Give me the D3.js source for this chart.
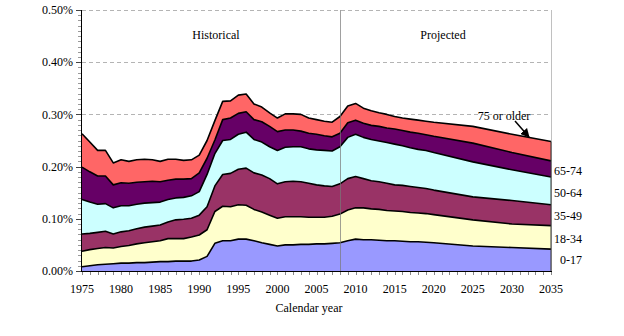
<!DOCTYPE html>
<html>
<head>
<meta charset="utf-8">
<script src="https://cdn.jsdelivr.net/npm/d3@7"></script>
<style>
  body { margin: 0; background: #fff; }
  text { font-family: "Liberation Serif", "Times New Roman", serif; fill: #000; }
</style>
</head>
<body>
<svg id="chart" width="624" height="336"></svg>
<script>
// Calendar years (annual to 2020, then every 5 years)
var years = [1975, 1976, 1977, 1978, 1979, 1980, 1981, 1982, 1983, 1984,
  1985, 1986, 1987, 1988, 1989, 1990, 1991, 1992, 1993, 1994,
  1995, 1996, 1997, 1998, 1999, 2000, 2001, 2002, 2003, 2004,
  2005, 2006, 2007, 2008, 2009, 2010, 2011, 2012, 2013, 2014,
  2015, 2016, 2017, 2018, 2019, 2020, 2025, 2030, 2035];

// percent, by age group
var age0_17 = [.008, .010, .012, .013, .014, .015, .015, .016, .016, .017,
  .018, .018, .019, .019, .019, .021, .028, .053, .058, .058,
  .061, .061, .058, .054, .051, .048, .050, .050, .051, .051,
  .052, .052, .053, .054, .058, .061, .060, .060, .059, .058,
  .058, .057, .056, .056, .055, .054, .048, .045, .042];
var age18_34 = [.030, .031, .031, .032, .030, .032, .034, .036, .038, .039,
  .040, .044, .043, .043, .046, .048, .051, .061, .066, .065,
  .066, .065, .060, .059, .056, .053, .054, .054, .053, .052,
  .051, .051, .052, .055, .059, .060, .061, .059, .059, .058,
  .057, .057, .056, .055, .055, .054, .050, .045, .045];
var age35_49 = [.033, .031, .031, .031, .027, .028, .028, .029, .030, .030,
  .030, .032, .036, .037, .036, .038, .044, .049, .061, .064,
  .068, .071, .070, .071, .070, .066, .067, .068, .067, .065,
  .062, .060, .057, .058, .060, .060, .056, .054, .053, .052,
  .050, .050, .050, .049, .048, .047, .044, .045, .040];
var age50_64 = [.066, .060, .054, .053, .050, .050, .048, .047, .046, .045,
  .044, .043, .042, .042, .043, .045, .062, .062, .065, .065,
  .067, .069, .064, .063, .061, .064, .066, .066, .067, .066,
  .067, .068, .068, .071, .079, .081, .079, .079, .078, .078,
  .078, .076, .074, .073, .073, .072, .067, .059, .053];
var age65_74 = [.062, .058, .054, .053, .044, .044, .043, .042, .041, .041,
  .039, .037, .036, .035, .033, .036, .031, .026, .040, .041,
  .040, .039, .038, .039, .039, .036, .033, .032, .030, .030,
  .030, .028, .027, .026, .028, .027, .027, .027, .028, .028,
  .029, .029, .030, .031, .030, .031, .036, .033, .031];
var age75plus = [.064, .057, .049, .049, .042, .044, .042, .043, .043, .041,
  .039, .040, .038, .036, .036, .034, .034, .037, .035, .033,
  .035, .034, .030, .028, .026, .026, .031, .031, .032, .029,
  .028, .028, .028, .032, .032, .032, .029, .028, .026, .026,
  .024, .024, .025, .025, .026, .027, .032, .035, .037];

var groups = ["0-17", "18-34", "35-49", "50-64", "65-74", "75 or older"];
var colors = ["#9999ff", "#ffffcc", "#993366", "#ccffff", "#660066", "#ff6666"];
var yTicks = [0, 0.1, 0.2, 0.3, 0.4, 0.5];
var xTicks = [1975, 1980, 1985, 1990, 1995, 2000, 2005, 2010, 2015, 2020, 2025, 2030, 2035];

var table = years.map(function (yr, i) {
  return {
    year: yr,
    "0-17": age0_17[i],
    "18-34": age18_34[i],
    "35-49": age35_49[i],
    "50-64": age50_64[i],
    "65-74": age65_74[i],
    "75 or older": age75plus[i]
  };
});

var svg = d3.select("svg#chart");
var plotL = 82, plotR = 551, plotT = 10, plotB = 271;

var x = d3.scaleLinear().domain([1975, 2035]).range([plotL, plotR]);
var y = d3.scaleLinear().domain([0, 0.5]).range([plotB, plotT]);

// gridlines
svg.append("g")
  .selectAll("line")
  .data(yTicks.slice(1))
  .join("line")
  .attr("x1", plotL).attr("x2", plotR)
  .attr("y1", d => Math.round(y(d)) + 0.5).attr("y2", d => Math.round(y(d)) + 0.5)
  .attr("stroke", "#b4b4b4")
  .attr("stroke-dasharray", "4,3");

// right border
svg.append("line")
  .attr("x1", plotR + 0.5).attr("x2", plotR + 0.5)
  .attr("y1", plotT).attr("y2", plotB)
  .attr("stroke", "#c0c0c0");

// stacked areas
var series = d3.stack().keys(groups)(table);
var area = d3.area()
  .x(d => x(d.data.year))
  .y0(d => y(d[0]))
  .y1(d => y(d[1]));

svg.append("g")
  .selectAll("path")
  .data(series)
  .join("path")
  .attr("d", area)
  .attr("fill", (d, i) => colors[i]);

var line = d3.line()
  .x(d => x(d.data.year))
  .y(d => y(d[1]));

svg.append("g")
  .selectAll("path")
  .data(series)
  .join("path")
  .attr("d", line)
  .attr("fill", "none")
  .attr("stroke", "#000")
  .attr("stroke-width", 1.6)
  .attr("stroke-linejoin", "round");

// right edge of the areas
svg.append("line")
  .attr("x1", plotR).attr("x2", plotR)
  .attr("y1", y(0)).attr("y2", y(d3.sum(groups, g => table[table.length - 1][g])))
  .attr("stroke", "#333").attr("stroke-width", 1);

// historical / projected divider
svg.append("line")
  .attr("x1", Math.round(x(2008)) + 0.5).attr("x2", Math.round(x(2008)) + 0.5)
  .attr("y1", plotT).attr("y2", plotB)
  .attr("stroke", "#777").attr("stroke-opacity", 0.7);

// y axis
var yAxis = svg.append("g").attr("transform", "translate(" + plotL + ",0)");
yAxis.selectAll("line.minor")
  .data(d3.range(0, 51).map(d => d / 100))
  .join("line")
  .attr("class", "minor")
  .attr("x1", -4).attr("x2", 0)
  .attr("y1", d => Math.round(y(d)) + 0.5).attr("y2", d => Math.round(y(d)) + 0.5)
  .attr("stroke", "#999");
yAxis.selectAll("line.major")
  .data(yTicks)
  .join("line")
  .attr("class", "major")
  .attr("x1", -6).attr("x2", 0)
  .attr("y1", d => Math.round(y(d)) + 0.5).attr("y2", d => Math.round(y(d)) + 0.5)
  .attr("stroke", "#444");
yAxis.append("line")
  .attr("x1", -0.5).attr("x2", -0.5)
  .attr("y1", plotT).attr("y2", plotB)
  .attr("stroke", "#000");
yAxis.selectAll("text")
  .data(yTicks)
  .join("text")
  .attr("x", -9)
  .attr("y", d => y(d))
  .attr("dy", "0.35em")
  .attr("text-anchor", "end")
  .style("font-size", "12px")
  .text(d => d3.format(".2f")(d) + "%");

// x axis
var xAxis = svg.append("g").attr("transform", "translate(0," + plotB + ")");
xAxis.selectAll("line")
  .data(d3.range(1975, 2036))
  .join("line")
  .attr("x1", d => Math.round(x(d)) + 0.5).attr("x2", d => Math.round(x(d)) + 0.5)
  .attr("y1", 0).attr("y2", 4)
  .attr("stroke", "#888");
xAxis.append("line")
  .attr("x1", plotL - 1).attr("x2", plotR + 1)
  .attr("y1", 0.5).attr("y2", 0.5)
  .attr("stroke", "#000");
xAxis.selectAll("text")
  .data(xTicks)
  .join("text")
  .attr("x", d => x(d))
  .attr("y", 22)
  .attr("text-anchor", "middle")
  .style("font-size", "12px")
  .text(d => d);

svg.append("text")
  .attr("x", 309).attr("y", 312)
  .attr("text-anchor", "middle")
  .style("font-size", "12px")
  .text("Calendar year");

svg.append("text")
  .attr("x", 216).attr("y", 39)
  .attr("text-anchor", "middle")
  .style("font-size", "12px")
  .text("Historical");
svg.append("text")
  .attr("x", 443).attr("y", 39)
  .attr("text-anchor", "middle")
  .style("font-size", "12px")
  .text("Projected");

// series labels on the right
var labelY = [260, 239, 216, 193, 171];
svg.append("g")
  .selectAll("text")
  .data(groups.slice(0, 5))
  .join("text")
  .attr("x", (d, i) => i == 0 ? 560 : 554)
  .attr("y", (d, i) => labelY[i])
  .attr("dy", "0.35em")
  .style("font-size", "12px")
  .text(d => d);

// 75 or older callout
svg.append("defs").append("marker")
  .attr("id", "arrow")
  .attr("viewBox", "0 0 10 10")
  .attr("refX", 9).attr("refY", 5)
  .attr("markerWidth", 6).attr("markerHeight", 6)
  .attr("orient", "auto")
  .append("path")
  .attr("d", "M0,0L10,5L0,10z")
  .attr("fill", "#000");
svg.append("text")
  .attr("x", 504).attr("y", 120)
  .attr("text-anchor", "middle")
  .style("font-size", "12px")
  .text("75 or older");
svg.append("line")
  .attr("x1", 515).attr("y1", 121)
  .attr("x2", 529).attr("y2", 137)
  .attr("stroke", "#000").attr("stroke-width", 1.5)
  .attr("marker-end", "url(#arrow)");
</script>
</body>
</html>
